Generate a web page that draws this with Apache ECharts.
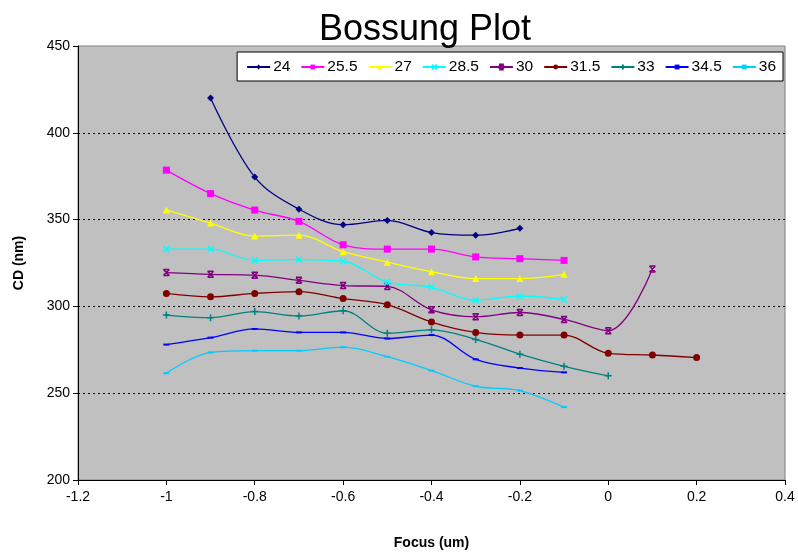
<!DOCTYPE html>
<html>
<head>
<meta charset="utf-8">
<script src="https://cdn.jsdelivr.net/npm/echarts@6/dist/echarts.min.js"></script>
<style>
html,body{margin:0;padding:0;background:#fff;}
#c{width:798px;height:555px;}
</style>
</head>
<body>
<div id="c"></div>
<script>
const focus = [-1, -0.9, -0.8, -0.7, -0.6, -0.5, -0.4, -0.3, -0.2, -0.1, 0, 0.1, 0.2];
const seriesNames = ['24', '25.5', '27', '28.5', '30', '31.5', '33', '34.5', '36'];
const s24   = [null, 420, 374.5, 356, 347, 349.5, 342.5, 341, 345, null, null, null, null];
const s25_5 = [378.5, 365, 355.5, 349, 335.5, 333, 333, 328.5, 327.5, 326.5, null, null, null];
const s27   = [355.5, 348, 340.5, 341, 331.5, 325.5, 320, 316, 316, 318.5, null, null, null];
const s28_5 = [333, 333, 326.5, 327, 326, 314, 311, 303.5, 306, 304, null, null, null];
const s30   = [319.5, 318.5, 318, 315, 312, 311.5, 298, 294, 296.5, 292.5, 286, 321.5, null];
const s31_5 = [307.5, 305.5, 307.5, 308.5, 304.5, 301, 291, 285, 283.5, 283.5, 273, 272, 270.5];
const s33   = [295, 293.5, 297, 294.5, 297.5, 284.5, 286.5, 281, 272.5, 265.5, 260, null, null];
const s34_5 = [278, 282, 287, 285, 285, 281.5, 283.5, 269.5, 264.5, 262, null, null, null];
const s36   = [261.5, 273.5, 274.5, 274.5, 276.5, 271, 263, 254, 251.5, 242, null, null, null];
const allValues = [s24, s25_5, s27, s28_5, s30, s31_5, s33, s34_5, s36];

const colors = ['#000080', '#FF00FF', '#FFFF00', '#00FFFF', '#800080', '#800000', '#008080', '#0000FF', '#00CCFF'];
const symbols = [
  'diamond', 'rect', 'triangle',
  'path://M0,0L10,10M10,0L0,10',
  'path://M0,0L10,10M10,0L0,10M0,0L10,0M0,10L10,10',
  'circle',
  'path://M5,0L5,10M0,5L10,5',
  'rect', 'rect'
];
const symbolSizes = [7, 7, 7, 6, 6, 7, 7, [6, 2], [6, 2]];

const chart = echarts.init(document.getElementById('c'), null, {renderer: 'canvas'});
const font = 'Liberation Sans, Arial, sans-serif';

const series = seriesNames.map((name, i) => ({
  name: name,
  type: 'line',
  smooth: 0.35,
  symbol: symbols[i],
  symbolSize: symbolSizes[i],
  showAllSymbol: true,
  connectNulls: false,
  lineStyle: {color: colors[i], width: 1.3},
  itemStyle: {color: colors[i], borderColor: colors[i], borderWidth: (symbols[i].indexOf('path://') === 0 ? 1.5 : 0)},
  emphasis: {disabled: true},
  z: 10 - i,
  data: focus.map((f, k) => [f, allValues[i][k]]).filter(p => p[1] !== null)
}));

chart.setOption({
  animation: false,
  backgroundColor: '#ffffff',
  textStyle: {fontFamily: font},
  title: {
    text: 'Bossung Plot',
    left: 420, textAlign: 'center', top: 7,
    textStyle: {fontFamily: font, fontSize: 36, fontWeight: 'normal', color: '#000'}
  },
  legend: {
    data: seriesNames,
    right: 15, top: 52,
    backgroundColor: '#ffffff',
    borderColor: '#000000', borderWidth: 1,
    padding: [7, 7, 6, 9],
    itemGap: 10,
    itemWidth: 23, itemHeight: 6,
    textStyle: {fontFamily: font, fontSize: 15.5, color: '#000', padding: [0, 0, 0, -2]}
  },
  grid: {
    left: 78, right: 13, top: 46, bottom: 74,
    show: true, backgroundColor: '#C0C0C0',
    borderColor: '#808080', borderWidth: 1
  },
  xAxis: {
    type: 'value', min: -1.2, max: 0.4, interval: 0.2,
    name: 'Focus (um)', nameLocation: 'middle', nameGap: 56,
    nameTextStyle: {fontFamily: font, fontSize: 14, fontWeight: 'bold', color: '#000'},
    axisLine: {show: true, onZero: false, lineStyle: {color: '#000', width: 1}},
    axisTick: {show: true, length: 5, lineStyle: {color: '#000'}},
    axisLabel: {fontFamily: font, fontSize: 14, color: '#000', margin: 10},
    splitLine: {show: false}
  },
  yAxis: {
    type: 'value', min: 200, max: 450, interval: 50,
    name: 'CD (nm)', nameLocation: 'middle', nameGap: 52, nameRotate: 90,
    nameTextStyle: {fontFamily: font, fontSize: 14, fontWeight: 'bold', color: '#000'},
    axisLine: {show: true, onZero: false, lineStyle: {color: '#000', width: 1}},
    axisTick: {show: true, length: 5, lineStyle: {color: '#000'}},
    axisLabel: {fontFamily: font, fontSize: 14, color: '#000', margin: 8},
    splitLine: {show: true, showMinLine: false, showMaxLine: false, lineStyle: {color: '#000', type: [2, 3], width: 1}}
  },
  series: series
});
</script>
</body>
</html>
